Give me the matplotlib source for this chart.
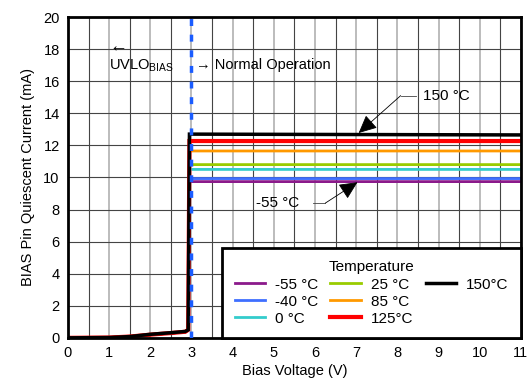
import matplotlib.pyplot as plt
from matplotlib.lines import Line2D
import numpy as np

plt.rcParams['font.family'] = ['Liberation Sans', 'DejaVu Sans']
plt.rcParams['mathtext.fontset'] = 'custom'
plt.rcParams['mathtext.rm'] = 'Liberation Sans'

# bias voltage points (V)
volts = [0, 1.0, 1.5, 2.0, 2.5, 2.85, 2.92, 2.95, 11]
# quiescent current per temperature (mA)
temps = ['-55 °C', '-40 °C', '0 °C', '25 °C', '85 °C', '125°C', '150°C']
i_m55 = [0, 0.02, 0.08, 0.2, 0.3, 0.38, 0.5, 9.74, 9.74]
i_m40 = [0, 0.02, 0.08, 0.2, 0.3, 0.38, 0.5, 9.93, 9.93]
i_0 = [0, 0.02, 0.08, 0.2, 0.3, 0.38, 0.5, 10.5, 10.5]
i_25 = [0, 0.02, 0.08, 0.2, 0.3, 0.38, 0.5, 10.8, 10.8]
i_85 = [0, 0.02, 0.08, 0.2, 0.3, 0.38, 0.5, 11.65, 11.65]
i_125 = [0, 0.02, 0.08, 0.2, 0.3, 0.38, 0.5, 12.27, 12.27]
i_150 = [0, 0.02, 0.08, 0.22, 0.32, 0.4, 0.5, 12.7, 12.65]
currents = [i_m55, i_m40, i_0, i_25, i_85, i_125, i_150]
colors = ['#8b1a8b', '#3f6fff', '#33cccc', '#99cc00', '#ff9900', '#ff0000', '#000000']
widths = [2, 2, 2, 2, 2, 3, 2.5]

fig, ax = plt.subplots(figsize=(5.31, 3.87), dpi=100)
fig.subplots_adjust(left=0.128, right=0.981, bottom=0.127, top=0.956)

# grid
ax.set_xticks(np.arange(0, 11.5, 0.5), minor=True)
ax.grid(which='minor', axis='x', color='#444444', lw=0.8)
ax.grid(which='major', axis='x', color='#b0b0b0', lw=1.2)
ax.grid(which='major', axis='y', color='#444444', lw=0.8)
ax.set_axisbelow(True)

handles = []
for cur, c, lw, lab in zip(currents, colors, widths, temps):
    h, = ax.plot(volts, cur, color=c, lw=lw, label=lab, solid_joinstyle='miter')
    handles.append(h)

ax.axvline(3, color='#1a5cff', lw=2.5, ls=(0, (2, 2.5)), zorder=5)

ax.set_xlim(0, 11)
ax.set_ylim(0, 20)
ax.set_xticks(range(0, 12))
ax.set_yticks(range(0, 21, 2))
ax.tick_params(which='both', length=0, labelsize=10.5, pad=6)
for s in ax.spines.values():
    s.set_linewidth(2)
ax.set_xlabel('Bias Voltage (V)', fontsize=10.5, labelpad=3)
ax.set_ylabel('BIAS Pin Quiescent Current (mA)', fontsize=10.5, labelpad=6)

# text labels
ax.text(1.0, 18.15, '←', fontsize=13, ha='left', va='center')
ax.text(1.0, 17.0, r'UVLO$_{\rm BIAS}$', fontsize=10.5, ha='left', va='center')
ax.text(3.1, 17.0, '→ Normal Operation', fontsize=10.5, ha='left', va='center')

arrow = dict(arrowstyle='-|>,head_length=0.8,head_width=0.38', color='black',
             lw=0.6, mutation_scale=14, shrinkA=0, shrinkB=0)
ax.plot([8.08, 8.45], [15.1, 15.1], color='#444444', lw=0.6)
ax.annotate('', xy=(7.06, 12.77), xytext=(8.08, 15.1), arrowprops=arrow)
ax.text(8.62, 15.1, '150 °C', fontsize=11, ha='left', va='center')
ax.plot([5.94, 6.25], [8.4, 8.4], color='#444444', lw=0.6)
ax.annotate('', xy=(7.03, 9.7), xytext=(6.25, 8.4), arrowprops=arrow)
ax.text(4.57, 8.4, '-55 °C', fontsize=11, ha='left', va='center')

# legend: 3 per column, last column only 150 °C
blank = Line2D([], [], color='none')
leg_handles = handles[:6] + [handles[6], blank, blank]
leg_labels = temps[:6] + [temps[6], '', '']
leg = ax.legend(leg_handles, leg_labels, title='Temperature', ncol=3, loc='lower right',
                bbox_to_anchor=(1.0, 0.0), fontsize=11, title_fontsize=11,
                handlelength=2.0, fancybox=False, framealpha=1, edgecolor='black',
                borderpad=0.8, labelspacing=0.2, columnspacing=0.8,
                handletextpad=0.65, borderaxespad=0)
leg.get_frame().set_linewidth(2)
leg.set_zorder(10)

plt.savefig('out.png', dpi=100)
